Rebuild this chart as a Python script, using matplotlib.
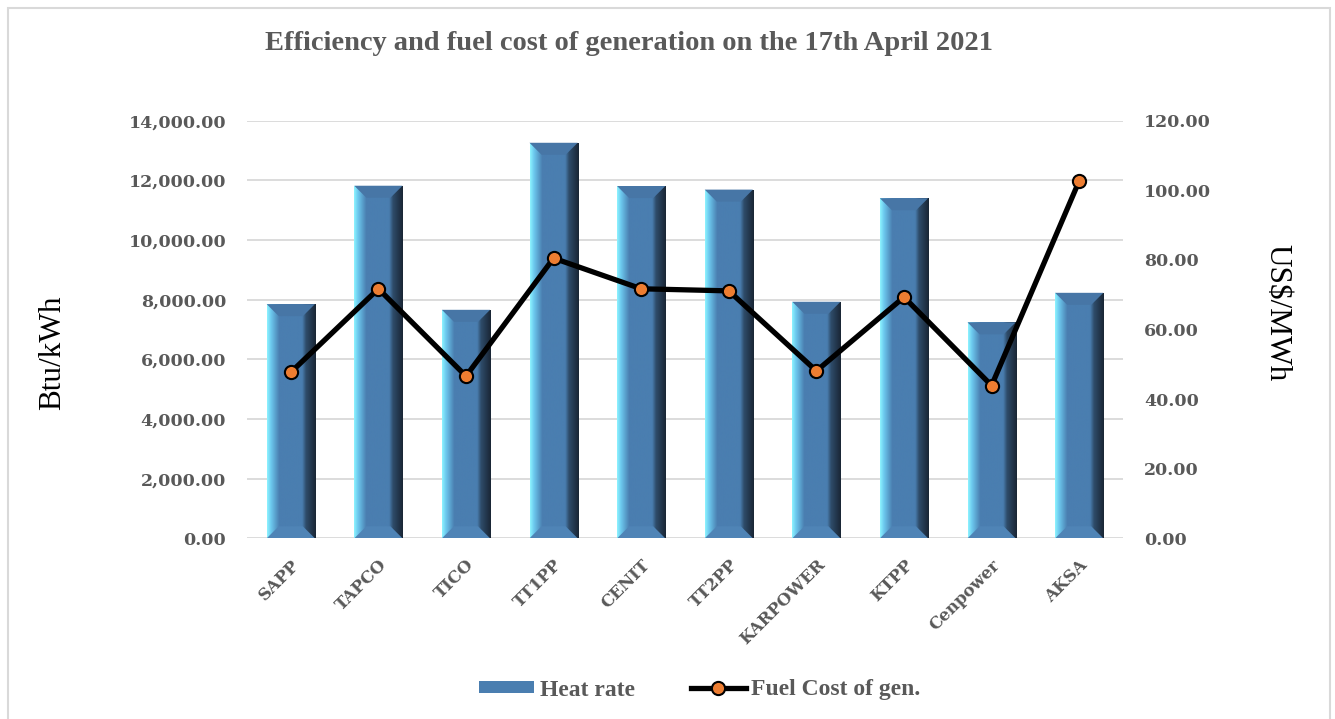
import numpy as np
import matplotlib.pyplot as plt
from matplotlib.colors import LinearSegmentedColormap
from matplotlib.patches import Polygon, Rectangle, Patch
from matplotlib.lines import Line2D
from matplotlib.ticker import FuncFormatter

plants = ['SAPP', 'TAPCO', 'TICO', 'TT1PP', 'CENIT', 'TT2PP', 'KARPOWER', 'KTPP', 'Cenpower', 'AKSA']
heat_rate = [7850, 11820, 7660, 13260, 11810, 11690, 7930, 11400, 7240, 8230]
fuel_cost = [47.7, 71.7, 46.6, 80.5, 71.7, 71.1, 48.1, 69.3, 43.9, 102.7]

grey = '#595959'
serif = ['Liberation Serif', 'DejaVu Serif']
tick_font = ['DejaVu Serif']
plt.rcParams['font.family'] = serif

W, H = 1335, 719
fig = plt.figure(figsize=(W / 100, H / 100), dpi=100)
fig.patches.append(Rectangle((8 / W, -0.05), 1322 / W, 1.05 - 8 / H, transform=fig.transFigure,
                             fill=False, edgecolor='#D9D9D9', lw=1.5, zorder=0))

ax = fig.add_axes([247 / W, (H - 538.3) / H, 876 / W, 417.6 / H])
ax2 = ax.twinx()

x = np.arange(len(plants))
bars = ax.bar(x, heat_rate, width=0.55, color='#4A7EB0', zorder=2, label='Heat rate')

# bevelled look for each bar
cmap = LinearSegmentedColormap.from_list('bevel', [
    (0.0, '#8DF3FF'), (0.08, '#6CC8EE'), (0.25, '#4A7EB0'),
    (0.72, '#4A7EB0'), (0.80, '#2E4C6A'), (1.0, '#1A2635')])
grad = np.linspace(0, 1, 200).reshape(1, -1)
bev_y = 12 * 14000 / 417.6
for b in bars:
    x0, w, h = b.get_x(), b.get_width(), b.get_height()
    bx = w * 0.25
    im = ax.imshow(grad, cmap=cmap, extent=(x0, x0 + w, 0, h), aspect='auto', zorder=2.1)
    im.set_clip_path(b)
    ax.add_patch(Polygon([(x0, h), (x0 + w, h), (x0 + w - bx, h - bev_y), (x0 + bx, h - bev_y)],
                         closed=True, facecolor='#4776A6', edgecolor='none', zorder=2.2))
    ax.add_patch(Polygon([(x0, 0), (x0 + w, 0), (x0 + w - bx, bev_y), (x0 + bx, bev_y)],
                         closed=True, facecolor='#4F84B6', edgecolor='none', zorder=2.2))

ax.set_xlim(-0.5, len(plants) - 0.5)
ax.set_ylim(0, 14000)
ax.set_yticks(np.arange(0, 14001, 2000))
ax.yaxis.set_major_formatter(FuncFormatter(lambda v, p: f'{v:,.2f}'))
ax.grid(axis='y', color='#D9D9D9', lw=1.3, zorder=0)
ax.set_axisbelow(True)
for s in ax.spines.values():
    s.set_visible(False)
for s in ax2.spines.values():
    s.set_visible(False)

ax.set_xticks(x)
ax.set_xticklabels(plants, rotation=45, ha='right', rotation_mode='anchor',
                   fontsize=12, fontweight='bold', color=grey, family=tick_font)
ax.tick_params(axis='x', length=0, pad=13)
ax.tick_params(axis='y', length=0, pad=15, labelcolor=grey)
for t in ax.get_yticklabels():
    t.set_fontweight('bold')
    t.set_family(tick_font)
    t.set_fontsize(12.5)

ax2.plot(x, fuel_cost, color='black', lw=3.8, marker='o', ms=9.5,
         markerfacecolor='#ED7D31', markeredgecolor='black', mew=1.5, zorder=3,
         label='Fuel Cost of gen.')
ax2.set_ylim(0, 120)
ax2.set_yticks(np.arange(0, 121, 20))
ax2.yaxis.set_major_formatter(FuncFormatter(lambda v, p: f'{v:,.2f}'))
ax2.tick_params(axis='y', length=0, pad=15, labelcolor=grey)
for t in ax2.get_yticklabels():
    t.set_fontweight('bold')
    t.set_family(tick_font)
    t.set_fontsize(12.5)

fig.text(53 / W, 1 - 353 / H, 'Btu/kWh', rotation=90, ha='center', va='center',
         fontsize=22.5, color='black')
fig.text(1277 / W, 1 - 313 / H, 'US$/MWh', rotation=-90, ha='center', va='center',
         fontsize=22.5, color='black')

fig.text(629 / W, 1 - 43 / H, 'Efficiency and fuel cost of generation on the 17th April 2021',
         ha='center', va='center', fontsize=20.5, fontweight='bold', color=grey)

handles = [Patch(facecolor='#4A7EB0', edgecolor='none'),
           Line2D([], [], color='black', lw=3.8, marker='o', ms=9.5,
                  markerfacecolor='#ED7D31', markeredgecolor='black', mew=1.5)]
leg = fig.legend(handles, ['Heat rate', 'Fuel Cost of gen.'], loc='center', ncol=2,
                 bbox_to_anchor=(700 / W, 1 - 690 / H), frameon=False,
                 handlelength=2.3, handleheight=0.4, columnspacing=2.4, handletextpad=0.25,
                 prop={'family': serif, 'weight': 'bold', 'size': 17})
for t in leg.get_texts():
    t.set_color(grey)

fig.savefig('out.png', dpi=100)
